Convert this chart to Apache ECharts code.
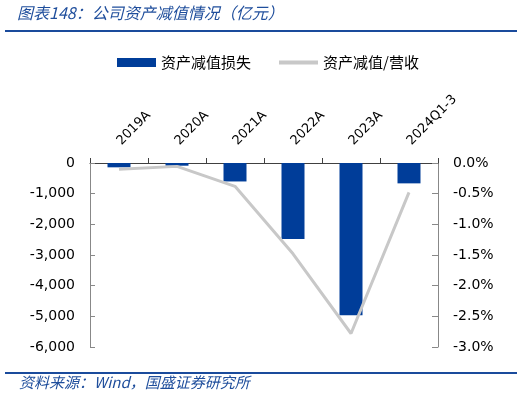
<!DOCTYPE html>
<html><head><meta charset="utf-8">
<script src="https://cdn.jsdelivr.net/npm/echarts@6/dist/echarts.min.js"></script>
<style>html,body{margin:0;padding:0;background:#fff}#c{width:526px;height:398px}</style>
</head><body><div id="c"></div>
<script>
const categories = ['2019A','2020A','2021A','2022A','2023A','2024Q1-3'];
const impairmentLoss = [-141, -88, -602, -2477, -4964, -664];
const impairmentRatio = [-0.10, -0.055, -0.38, -1.48, -2.78, -0.48];
const leftTicks = {min:-6000, max:0, interval:1000};
const rightTicks = {min:-3, max:0, interval:0.5};

const chart = echarts.init(document.getElementById('c'), null, {renderer:'canvas'});
const blue = '#003d99';
const gray = '#c8c8c8';
const font = 'DejaVu Sans';
chart.setOption({
  animation:false,
  backgroundColor:'#fff',
  grid:{left:90, right:88, top:163, bottom:51},
  legend:{
    top:50, left:112, itemGap:28, itemWidth:39, itemHeight:9,
    textStyle:{fontFamily:'Noto Sans CJK SC', fontSize:15, color:'#000'},
    data:[{name:'资产减值损失', icon:'rect'},{name:'资产减值/营收', icon:'path://M0,0H10V1H0Z', itemStyle:{color:gray}}]
  },
  xAxis:{
    type:'category', data:categories, position:'top',
    axisLine:{lineStyle:{color:'#404040', width:1}},
    axisTick:{show:true, inside:false, length:5, lineStyle:{color:'#404040'}},
    axisLabel:{rotate:45, fontFamily:font, fontSize:13, color:'#000', margin:20}
  },
  yAxis:[{
    type:'value', min:leftTicks.min, max:leftTicks.max, interval:leftTicks.interval,
    splitLine:{show:false},
    axisLine:{show:true, lineStyle:{color:'#888'}},
    axisTick:{show:true, inside:true, length:5, lineStyle:{color:'#888'}},
    axisLabel:{fontFamily:font, fontSize:14, color:'#000', margin:15,
      formatter:v=>v===0?'0':v.toLocaleString('en-US')}
  },{
    type:'value', min:rightTicks.min, max:rightTicks.max, interval:rightTicks.interval,
    splitLine:{show:false},
    axisLine:{show:true, lineStyle:{color:'#888'}},
    axisTick:{show:true, inside:true, length:6, lineStyle:{color:'#888'}},
    axisLabel:{fontFamily:font, fontSize:14, color:'#000', margin:15,
      formatter:v=>v.toFixed(1)+'%'}
  }],
  series:[{
    name:'资产减值损失', type:'bar', data:impairmentLoss, barWidth:23,
    itemStyle:{color:blue}
  },{
    name:'资产减值/营收', type:'line', yAxisIndex:1, data:impairmentRatio,
    symbol:'none', lineStyle:{color:gray, width:3}, itemStyle:{color:gray}
  }],
  graphic:[
    {type:'text', left:17, top:5, style:{text:'图表148：公司资产减值情况（亿元）', fill:'#1f4e9c',
      font:'italic 16px "Noto Sans CJK SC"'}},
    {type:'rect', shape:{x:5, y:30, width:512, height:2}, style:{fill:'#1a4b9c'}},
    {type:'rect', shape:{x:5, y:372, width:512, height:2}, style:{fill:'#1a4b9c'}},
    {type:'text', left:19, top:375, style:{text:'资料来源：Wind，国盛证券研究所', fill:'#1f4e9c',
      font:'italic 15px "Noto Sans CJK SC"'}}
  ]
});
</script></body></html>
